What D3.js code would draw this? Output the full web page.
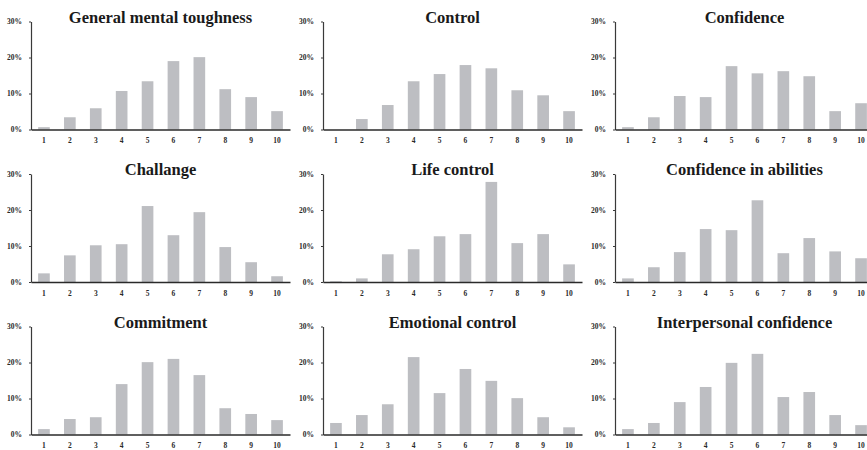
<!DOCTYPE html>
<html>
<head>
<meta charset="utf-8">
<script src="https://cdn.jsdelivr.net/npm/d3@7"></script>
<style>
  body { margin: 0; background: #fff; }
  svg { display: block; }
</style>
</head>
<body>
<div id="chart"></div>
<script>
// values (percent of respondents per score)
const scores = ["1", "2", "3", "4", "5", "6", "7", "8", "9", "10"];
const titles = [
    "General mental toughness", "Control", "Confidence",
    "Challange", "Life control", "Confidence in abilities",
    "Commitment", "Emotional control", "Interpersonal confidence"
];
const generalMentalToughness = [0.65, 3.4, 5.9, 10.7, 13.4, 19.0, 20.1, 11.2, 9.0, 5.1];
const control = [0, 2.9, 6.8, 13.4, 15.4, 17.9, 17.0, 10.9, 9.5, 5.1];
const confidence = [0.65, 3.4, 9.3, 9.0, 17.6, 15.6, 16.2, 14.8, 5.1, 7.3];
const challange = [2.4, 7.4, 10.2, 10.5, 21.1, 13.0, 19.4, 9.7, 5.5, 1.6];
const lifeControl = [0.2, 1.0, 7.7, 9.1, 12.7, 13.3, 27.8, 10.8, 13.3, 4.9];
const confidenceInAbilities = [1.0, 4.1, 8.3, 14.7, 14.4, 22.7, 8.0, 12.2, 8.5, 6.6];
const commitment = [1.5, 4.3, 4.8, 14.0, 20.1, 21.0, 16.5, 7.3, 5.7, 4.0];
const emotionalControl = [3.2, 5.4, 8.4, 21.5, 11.5, 18.2, 14.9, 10.1, 4.8, 2.0];
const interpersonalConfidence = [1.5, 3.2, 9.0, 13.2, 19.9, 22.4, 10.4, 11.8, 5.4, 2.6];
const yTicks = [0, 10, 20, 30];

const panels = [
    generalMentalToughness, control, confidence,
    challange, lifeControl, confidenceInAbilities,
    commitment, emotionalControl, interpersonalConfidence
];

const width = 867, height = 450;
const panelLeft = 31, colStep = 292;
const panelTop = 21.5, rowStep = 152.5;
const plotW = 259, plotH = 108;
const serif = "'Liberation Serif', 'DejaVu Serif', serif";

const svg = d3.select("#chart").append("svg")
    .attr("width", width)
    .attr("height", height);

const x = d3.scaleBand()
    .domain(scores)
    .range([0, plotW])
    .paddingInner(0.55)
    .paddingOuter(0.275);

const y = d3.scaleLinear()
    .domain([0, 30])
    .range([plotH, 0]);

panels.forEach((values, i) => {
    const col = i % 3, row = Math.floor(i / 3);
    const g = svg.append("g")
        .attr("transform", `translate(${panelLeft + col * colStep},${panelTop + row * rowStep})`);

    g.selectAll("rect")
        .data(values)
        .join("rect")
        .attr("x", (d, j) => x(scores[j]))
        .attr("y", d => y(d))
        .attr("width", x.bandwidth())
        .attr("height", d => plotH - y(d))
        .attr("fill", "#bdbec2");

    // y axis
    const yAxis = g.append("g")
        .call(d3.axisLeft(y)
            .tickValues(yTicks)
            .tickFormat(d => d + "%")
            .tickSize(2)
            .tickSizeOuter(0)
            .tickPadding(7));
    yAxis.select(".domain").attr("stroke", "#3a3a3a").attr("stroke-width", 1.2);
    yAxis.selectAll(".tick line").attr("stroke", "#3a3a3a");
    yAxis.selectAll("text")
        .attr("fill", "#2a2a2a")
        .style("font-family", serif)
        .style("font-size", "7.5px")
        .style("font-weight", "bold");

    // x axis
    const xAxis = g.append("g")
        .attr("transform", `translate(0,${plotH})`)
        .call(d3.axisBottom(x).tickSize(0).tickPadding(8.5));
    xAxis.select(".domain").attr("stroke", "#2a2a2a").attr("stroke-width", 1.5);
    xAxis.selectAll("text")
        .attr("fill", "#2a2a2a")
        .style("font-family", serif)
        .style("font-size", "7.5px")
        .style("font-weight", "bold");

    g.append("text")
        .attr("x", plotW / 2)
        .attr("y", 1)
        .attr("text-anchor", "middle")
        .attr("fill", "#1a1a1a")
        .style("font-family", serif)
        .style("font-size", "16.5px")
        .style("font-weight", "bold")
        .text(titles[i]);
});
</script>
</body>
</html>
